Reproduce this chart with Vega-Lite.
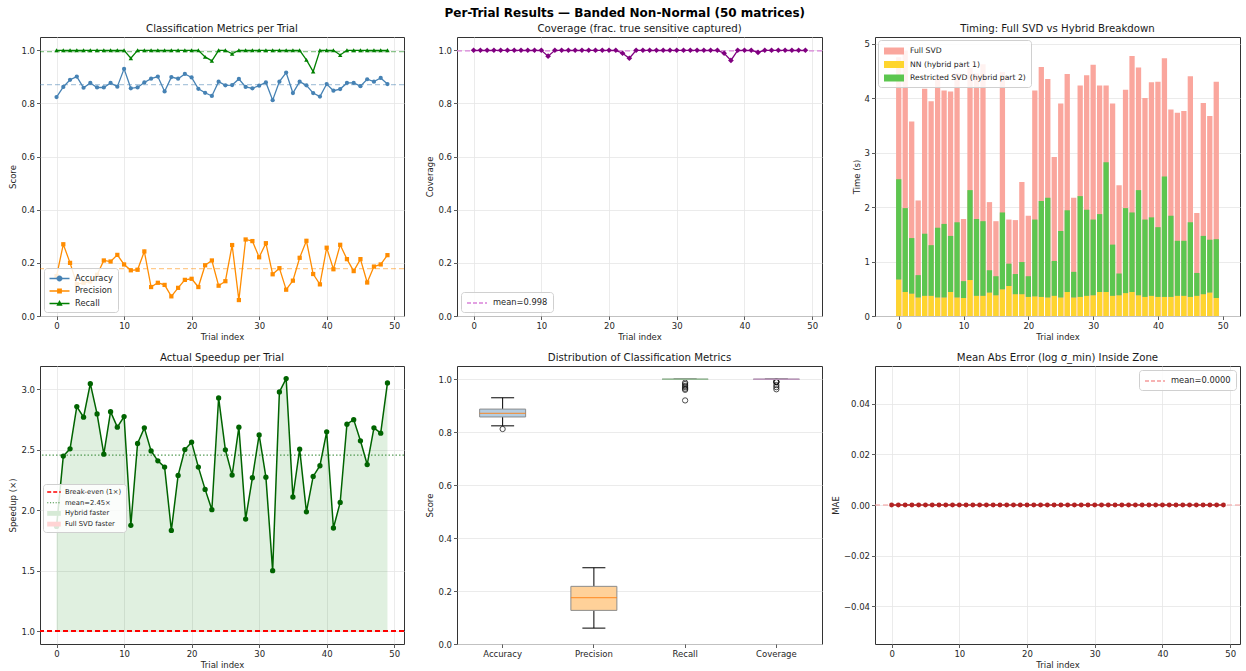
{
  "$schema": "https://vega.github.io/schema/vega-lite/v6.json",
  "background": "white",
  "padding": {"left": 8, "top": 7, "right": 3, "bottom": 2},
  "title": {"text": "Per-Trial Results — Banded Non-Normal (50 matrices)", "fontSize": 12, "fontWeight": "bold", "anchor": "middle", "offset": 3, "color": "#000000"},
  "data": {"values": [
    {"t":0,"acc":0.824,"prec":0.150,"rec":1,"cov":1,"full":4.75,"nn":0.67,"rsvd":1.84,"speed":1.867,"mae":0},
    {"t":1,"acc":0.862,"prec":0.270,"rec":1,"cov":1,"full":4.87,"nn":0.44,"rsvd":1.54,"speed":2.448,"mae":0},
    {"t":2,"acc":0.889,"prec":0.200,"rec":1,"cov":1,"full":3.57,"nn":0.41,"rsvd":1.02,"speed":2.508,"mae":0},
    {"t":3,"acc":0.901,"prec":0.120,"rec":1,"cov":1,"full":2.12,"nn":0.34,"rsvd":0.41,"speed":2.857,"mae":0},
    {"t":4,"acc":0.859,"prec":0.125,"rec":1,"cov":1,"full":4.17,"nn":0.37,"rsvd":1.14,"speed":2.769,"mae":0},
    {"t":5,"acc":0.877,"prec":0.130,"rec":1,"cov":1,"full":3.94,"nn":0.37,"rsvd":0.93,"speed":3.046,"mae":0},
    {"t":6,"acc":0.860,"prec":0.155,"rec":1,"cov":1,"full":4.40,"nn":0.34,"rsvd":1.28,"speed":2.796,"mae":0},
    {"t":7,"acc":0.860,"prec":0.209,"rec":1,"cov":1,"full":4.14,"nn":0.34,"rsvd":1.35,"speed":2.464,"mae":0},
    {"t":8,"acc":0.877,"prec":0.205,"rec":1,"cov":1,"full":4.12,"nn":0.44,"rsvd":1.03,"speed":2.815,"mae":0},
    {"t":9,"acc":0.863,"prec":0.230,"rec":1,"cov":1,"full":4.45,"nn":0.34,"rsvd":1.38,"speed":2.687,"mae":0},
    {"t":10,"acc":0.930,"prec":0.194,"rec":1,"cov":1,"full":1.78,"nn":0.33,"rsvd":0.31,"speed":2.774,"mae":0},
    {"t":11,"acc":0.857,"prec":0.172,"rec":0.970,"cov":0.978,"full":4.55,"nn":0.66,"rsvd":1.65,"speed":1.876,"mae":0},
    {"t":12,"acc":0.860,"prec":0.174,"rec":1,"cov":1,"full":4.45,"nn":0.37,"rsvd":1.41,"speed":2.552,"mae":0},
    {"t":13,"acc":0.879,"prec":0.243,"rec":1,"cov":1,"full":4.62,"nn":0.37,"rsvd":1.37,"speed":2.681,"mae":0},
    {"t":14,"acc":0.893,"prec":0.109,"rec":1,"cov":1,"full":2.09,"nn":0.43,"rsvd":0.41,"speed":2.491,"mae":0},
    {"t":15,"acc":0.901,"prec":0.125,"rec":1,"cov":1,"full":1.74,"nn":0.38,"rsvd":0.35,"speed":2.409,"mae":0},
    {"t":16,"acc":0.845,"prec":0.117,"rec":1,"cov":1,"full":4.48,"nn":0.49,"rsvd":1.41,"speed":2.357,"mae":0},
    {"t":17,"acc":0.899,"prec":0.074,"rec":1,"cov":1,"full":1.77,"nn":0.55,"rsvd":0.41,"speed":1.834,"mae":0},
    {"t":18,"acc":0.893,"prec":0.106,"rec":1,"cov":1,"full":1.76,"nn":0.40,"rsvd":0.37,"speed":2.288,"mae":0},
    {"t":19,"acc":0.911,"prec":0.136,"rec":1,"cov":1,"full":2.46,"nn":0.40,"rsvd":0.59,"speed":2.502,"mae":0},
    {"t":20,"acc":0.898,"prec":0.140,"rec":1,"cov":1,"full":1.84,"nn":0.35,"rsvd":0.38,"speed":2.563,"mae":0},
    {"t":21,"acc":0.855,"prec":0.109,"rec":1,"cov":1,"full":4.14,"nn":0.36,"rsvd":1.41,"speed":2.357,"mae":0},
    {"t":22,"acc":0.840,"prec":0.191,"rec":0.975,"cov":0.989,"full":4.57,"nn":0.35,"rsvd":1.76,"speed":2.173,"mae":0},
    {"t":23,"acc":0.828,"prec":0.209,"rec":0.960,"cov":0.970,"full":4.35,"nn":0.34,"rsvd":1.83,"speed":2.005,"mae":0},
    {"t":24,"acc":0.882,"prec":0.114,"rec":1,"cov":1,"full":2.92,"nn":0.37,"rsvd":0.64,"speed":2.928,"mae":0},
    {"t":25,"acc":0.868,"prec":0.131,"rec":1,"cov":1,"full":3.90,"nn":0.34,"rsvd":1.22,"speed":2.500,"mae":0},
    {"t":26,"acc":0.869,"prec":0.267,"rec":0.987,"cov":1,"full":4.44,"nn":0.44,"rsvd":1.50,"speed":2.291,"mae":0},
    {"t":27,"acc":0.892,"prec":0.060,"rec":1,"cov":1,"full":2.17,"nn":0.34,"rsvd":0.47,"speed":2.687,"mae":0},
    {"t":28,"acc":0.862,"prec":0.288,"rec":1,"cov":1,"full":4.23,"nn":0.35,"rsvd":1.85,"speed":1.928,"mae":0},
    {"t":29,"acc":0.857,"prec":0.282,"rec":1,"cov":1,"full":4.42,"nn":0.37,"rsvd":1.58,"speed":2.269,"mae":0},
    {"t":30,"acc":0.867,"prec":0.221,"rec":1,"cov":1,"full":4.61,"nn":0.38,"rsvd":1.39,"speed":2.623,"mae":0},
    {"t":31,"acc":0.879,"prec":0.274,"rec":1,"cov":1,"full":4.23,"nn":0.44,"rsvd":1.43,"speed":2.274,"mae":0},
    {"t":32,"acc":0.812,"prec":0.157,"rec":1,"cov":1,"full":4.23,"nn":0.44,"rsvd":2.38,"speed":1.502,"mae":0},
    {"t":33,"acc":0.882,"prec":0.180,"rec":1,"cov":1,"full":3.90,"nn":0.37,"rsvd":0.94,"speed":2.978,"mae":0},
    {"t":34,"acc":0.916,"prec":0.099,"rec":1,"cov":1,"full":2.40,"nn":0.38,"rsvd":0.40,"speed":3.088,"mae":0},
    {"t":35,"acc":0.839,"prec":0.133,"rec":1,"cov":1,"full":4.15,"nn":0.42,"rsvd":1.56,"speed":2.110,"mae":0},
    {"t":36,"acc":0.882,"prec":0.219,"rec":1,"cov":1,"full":4.77,"nn":0.44,"rsvd":1.46,"speed":2.505,"mae":0},
    {"t":37,"acc":0.868,"prec":0.283,"rec":0.964,"cov":0.989,"full":4.56,"nn":0.38,"rsvd":1.93,"speed":1.988,"mae":0},
    {"t":38,"acc":0.839,"prec":0.158,"rec":0.920,"cov":0.962,"full":4.00,"nn":0.35,"rsvd":1.42,"speed":2.280,"mae":0},
    {"t":39,"acc":0.826,"prec":0.119,"rec":1,"cov":1,"full":4.29,"nn":0.37,"rsvd":1.44,"speed":2.368,"mae":0},
    {"t":40,"acc":0.873,"prec":0.257,"rec":1,"cov":1,"full":4.30,"nn":0.35,"rsvd":1.28,"speed":2.648,"mae":0},
    {"t":41,"acc":0.848,"prec":0.176,"rec":1,"cov":1,"full":4.73,"nn":0.35,"rsvd":2.21,"speed":1.854,"mae":0},
    {"t":42,"acc":0.854,"prec":0.268,"rec":0.982,"cov":0.992,"full":3.79,"nn":0.35,"rsvd":1.49,"speed":2.065,"mae":0},
    {"t":43,"acc":0.877,"prec":0.214,"rec":1,"cov":1,"full":3.73,"nn":0.37,"rsvd":1.01,"speed":2.711,"mae":0},
    {"t":44,"acc":0.877,"prec":0.169,"rec":1,"cov":1,"full":3.76,"nn":0.37,"rsvd":1.01,"speed":2.749,"mae":0},
    {"t":45,"acc":0.865,"prec":0.214,"rec":1,"cov":1,"full":4.40,"nn":0.35,"rsvd":1.37,"speed":2.574,"mae":0},
    {"t":46,"acc":0.891,"prec":0.126,"rec":1,"cov":1,"full":1.89,"nn":0.37,"rsvd":0.42,"speed":2.378,"mae":0},
    {"t":47,"acc":0.882,"prec":0.186,"rec":1,"cov":1,"full":3.91,"nn":0.40,"rsvd":1.07,"speed":2.681,"mae":0},
    {"t":48,"acc":0.896,"prec":0.194,"rec":1,"cov":1,"full":3.67,"nn":0.43,"rsvd":0.97,"speed":2.637,"mae":0},
    {"t":49,"acc":0.873,"prec":0.229,"rec":1,"cov":1,"full":4.30,"nn":0.33,"rsvd":1.08,"speed":3.052,"mae":0}
  ]},
  "columns": 3,
  "spacing": {"row": 50, "column": 53},
  "bounds": "flush",
  "resolve": {"scale": {"color": "independent", "shape": "independent"}, "legend": {"color": "independent", "shape": "independent"}},
  "concat": [
    {
      "width": 364, "height": 279,
      "title": "Classification Metrics per Trial",
      "layer": [
        {"mark": {"type": "rule", "color": "#4682b4", "strokeDash": [5, 3], "strokeWidth": 1.2, "opacity": 0.45},
         "encoding": {"y": {"aggregate": "mean", "field": "acc", "type": "quantitative", "title": "Score"}}},
        {"mark": {"type": "rule", "color": "#ff8c00", "strokeDash": [5, 3], "strokeWidth": 1.2, "opacity": 0.45},
         "encoding": {"y": {"aggregate": "mean", "field": "prec", "type": "quantitative", "title": "Score"}}},
        {"mark": {"type": "rule", "color": "#008000", "strokeDash": [5, 3], "strokeWidth": 1.2, "opacity": 0.45},
         "encoding": {"y": {"aggregate": "mean", "field": "rec", "type": "quantitative", "title": "Score"}}},
        {"mark": {"type": "line", "color": "#4682b4", "strokeWidth": 1.3},
         "encoding": {
           "x": {"field": "t", "type": "quantitative", "scale": {"domain": [-2.45, 51.45], "nice": false, "zero": false}, "axis": {"values": [0, 10, 20, 30, 40, 50], "format": "d", "title": "Trial index"}},
           "y": {"field": "acc", "type": "quantitative", "title": "Score", "scale": {"domain": [0, 1.05], "nice": false}, "axis": {"values": [0, 0.2, 0.4, 0.6, 0.8, 1.0], "format": ".1f"}}}},
        {"mark": {"type": "point", "shape": "circle", "filled": true, "size": 18, "color": "#4682b4", "opacity": 1},
         "encoding": {"x": {"field": "t", "type": "quantitative"}, "y": {"field": "acc", "type": "quantitative", "title": "Score"}}},
        {"mark": {"type": "line", "color": "#ff8c00", "strokeWidth": 1.3},
         "encoding": {"x": {"field": "t", "type": "quantitative"}, "y": {"field": "prec", "type": "quantitative", "title": "Score"}}},
        {"mark": {"type": "point", "shape": "square", "filled": true, "size": 18, "color": "#ff8c00", "opacity": 1},
         "encoding": {"x": {"field": "t", "type": "quantitative"}, "y": {"field": "prec", "type": "quantitative", "title": "Score"}}},
        {"mark": {"type": "line", "color": "#008000", "strokeWidth": 1.3},
         "encoding": {"x": {"field": "t", "type": "quantitative"}, "y": {"field": "rec", "type": "quantitative", "title": "Score"}}},
        {"mark": {"type": "point", "shape": "triangle-up", "filled": true, "size": 20, "color": "#008000", "opacity": 1},
         "encoding": {"x": {"field": "t", "type": "quantitative"}, "y": {"field": "rec", "type": "quantitative", "title": "Score"}}},
        {"transform": [{"filter": "datum.t == 0"}, {"fold": ["acc", "prec", "rec"], "as": ["metric", "score"]}],
         "mark": {"type": "point", "filled": true, "opacity": 0},
         "encoding": {
           "x": {"field": "t", "type": "quantitative"},
           "y": {"field": "score", "type": "quantitative", "title": "Score"},
           "color": {"field": "metric", "type": "nominal", "scale": {"domain": ["acc", "prec", "rec"], "range": ["#4682b4", "#ff8c00", "#008000"]},
             "legend": {"title": null, "orient": "bottom-left", "offset": 4, "symbolSize": 100, "symbolOffset": 5, "labelOffset": 10, "rowPadding": 3.5, "symbolOpacity": 1, "symbolStrokeWidth": 0.3,
               "labelExpr": "datum.label == 'acc' ? 'Accuracy' : datum.label == 'prec' ? 'Precision' : 'Recall'"}},
           "shape": {"field": "metric", "type": "nominal", "legend": null, "scale": {"domain": ["acc", "prec", "rec"], "range": [
             "M-2,-0.13H2V0.13H-2Z M0.6,0A0.6,0.6 0 1 1 -0.6,0A0.6,0.6 0 1 1 0.6,0Z",
             "M-2,-0.13H2V0.13H-2Z M-0.48,-0.48H0.48V0.48H-0.48Z",
             "M-2,-0.13H2V0.13H-2Z M0,-0.7L0.62,0.45H-0.62Z"]}}
         }}
      ]
    },
    {
      "width": 365, "height": 279,
      "title": "Coverage (frac. true sensitive captured)",
      "layer": [
        {
          "mark": {"type": "rule", "strokeDash": [5, 3], "strokeWidth": 1.2},
          "encoding": {
            "y": {"aggregate": "mean", "field": "cov", "type": "quantitative", "title": "Coverage"},
            "color": {"datum": "mean=0.998", "type": "nominal", "scale": {"domain": ["mean=0.998"], "range": ["#d982d9"]},
              "legend": {"title": null, "orient": "bottom-left", "offset": 4, "symbolType": "M-2,0H2", "symbolSize": 100, "symbolOffset": 5, "labelOffset": 10, "symbolDash": [4, 2], "symbolStrokeWidth": 1.3}}
          }
        },
        {
          "mark": {"type": "line", "color": "#800080", "strokeWidth": 1.3},
          "encoding": {
            "x": {"field": "t", "type": "quantitative", "scale": {"domain": [-2.45, 51.45], "nice": false, "zero": false}, "axis": {"values": [0, 10, 20, 30, 40, 50], "format": "d", "title": "Trial index"}},
            "y": {"field": "cov", "type": "quantitative", "title": "Coverage", "scale": {"domain": [0, 1.05], "nice": false}, "axis": {"values": [0, 0.2, 0.4, 0.6, 0.8, 1.0], "format": ".1f"}}
          }
        },
        {
          "mark": {"type": "point", "shape": "diamond", "filled": true, "color": "#800080", "size": 32, "opacity": 1},
          "encoding": {
            "x": {"field": "t", "type": "quantitative"},
            "y": {"field": "cov", "type": "quantitative", "title": "Coverage"}
          }
        }
      ]
    },
    {
      "width": 365, "height": 279,
      "title": "Timing: Full SVD vs Hybrid Breakdown",
      "layer": [
        {
          "mark": {"type": "bar", "width": 5.3},
          "encoding": {
            "x": {"field": "t", "type": "quantitative", "scale": {"domain": [-2.89, 51.89], "nice": false, "zero": false}, "axis": {"values": [0, 10, 20, 30, 40, 50], "format": "d", "title": "Trial index", "grid": false}},
            "y": {"field": "full", "type": "quantitative", "title": "Time (s)", "scale": {"domain": [0, 5.12], "nice": false}, "axis": {"values": [0, 1, 2, 3, 4, 5], "format": "d"}},
            "color": {"datum": "full", "type": "nominal", "scale": {"domain": ["full", "nn", "rsvd"], "range": ["#faa69d", "#fed52e", "#5cc64f"]},
              "legend": {"title": null, "orient": "top-left", "offset": 3, "symbolType": "M-2,-0.7H2V0.7H-2Z", "symbolSize": 100, "symbolOffset": 5, "labelOffset": 10, "labelFontSize": 7.7, "rowPadding": 3.5,
                "labelExpr": "datum.label == 'full' ? 'Full SVD' : datum.label == 'nn' ? 'NN (hybrid part 1)' : 'Restricted SVD (hybrid part 2)'"}}
          }
        },
        {
          "transform": [{"fold": ["nn", "rsvd"], "as": ["part", "time"]}],
          "mark": {"type": "bar", "width": 5.3},
          "encoding": {
            "x": {"field": "t", "type": "quantitative"},
            "y": {"field": "time", "type": "quantitative", "stack": "zero", "title": "Time (s)"},
            "color": {"field": "part", "type": "nominal", "title": null,
              "legend": {"title": null, "orient": "top-left", "offset": 3, "symbolType": "M-2,-0.7H2V0.7H-2Z", "symbolSize": 100, "symbolOffset": 5, "labelOffset": 10, "labelFontSize": 7.7, "rowPadding": 3.5,
                "labelExpr": "datum.label == 'full' ? 'Full SVD' : datum.label == 'nn' ? 'NN (hybrid part 1)' : 'Restricted SVD (hybrid part 2)'"}},
            "order": {"field": "part", "sort": "ascending"}
          }
        }
      ]
    },
    {
      "width": 364, "height": 278,
      "title": "Actual Speedup per Trial",
      "layer": [
        {
          "mark": {"type": "area", "color": "#008000", "opacity": 0.12},
          "encoding": {
            "x": {"field": "t", "type": "quantitative", "scale": {"domain": [-2.45, 51.45], "nice": false, "zero": false}, "axis": {"values": [0, 10, 20, 30, 40, 50], "format": "d", "title": "Trial index"}},
            "y": {"field": "speed", "type": "quantitative", "title": "Speedup (×)", "scale": {"domain": [0.896, 3.192], "nice": false, "zero": false}, "axis": {"values": [1, 1.5, 2, 2.5, 3], "format": ".1f"}},
            "y2": {"datum": 1}
          }
        },
        {
          "mark": {"type": "rule", "color": "#ff0000", "strokeDash": [5, 3], "strokeWidth": 1.3},
          "encoding": {"y": {"datum": 1}}
        },
        {
          "mark": {"type": "rule", "color": "#3c8c3c", "strokeDash": [1.5, 2], "strokeWidth": 1.1, "opacity": 0.85},
          "encoding": {"y": {"aggregate": "mean", "field": "speed", "type": "quantitative", "title": "Speedup (×)"}}
        },
        {
          "mark": {"type": "line", "color": "#006400", "strokeWidth": 1.5},
          "encoding": {
            "x": {"field": "t", "type": "quantitative"},
            "y": {"field": "speed", "type": "quantitative", "title": "Speedup (×)"}
          }
        },
        {
          "mark": {"type": "point", "filled": true, "color": "#006400", "size": 28, "opacity": 1},
          "encoding": {
            "x": {"field": "t", "type": "quantitative"},
            "y": {"field": "speed", "type": "quantitative", "title": "Speedup (×)"}
          }
        },
        {
          "transform": [{"filter": "datum.t == 0"}, {"fold": ["acc", "prec", "rec", "cov"], "as": ["entry", "v"]}],
          "mark": {"type": "point", "filled": true, "opacity": 0},
          "encoding": {
            "x": {"field": "t", "type": "quantitative"},
            "y": {"field": "speed", "type": "quantitative", "title": "Speedup (×)"},
            "color": {"field": "entry", "type": "nominal", "scale": {"domain": ["acc", "prec", "rec", "cov"], "range": ["#ff0000", "#3c8c3c", "#d6ead6", "#ffd4d4"]},
              "legend": {"title": null, "orient": "none", "legendX": 3, "legendY": 118, "labelFontSize": 6.8, "symbolSize": 64, "symbolOffset": 3, "labelOffset": 7, "rowPadding": 2.7, "padding": 4, "symbolOpacity": 1, "symbolStrokeWidth": 0,
                "labelExpr": "datum.label == 'acc' ? 'Break-even (1×)' : datum.label == 'prec' ? 'mean=2.45×' : datum.label == 'rec' ? 'Hybrid faster' : 'Full SVD faster'"}},
            "shape": {"field": "entry", "type": "nominal", "legend": null, "scale": {"domain": ["acc", "prec", "rec", "cov"], "range": [
              "M-1.7,-0.17H-0.7V0.17H-1.7Z M-0.2,-0.17H0.8V0.17H-0.2Z M1.3,-0.17H1.7V0.17H1.3Z",
              "M-1.7,-0.14H-1.42V0.14H-1.7Z M-1.0,-0.14H-0.72V0.14H-1.0Z M-0.3,-0.14H-0.02V0.14H-0.3Z M0.4,-0.14H0.68V0.14H0.4Z M1.1,-0.14H1.38V0.14H1.1Z",
              "M-1.7,-0.6H1.7V0.6H-1.7Z",
              "M-1.7,-0.6H1.7V0.6H-1.7Z"]}}
          }
        }
      ]
    },
    {
      "width": 365, "height": 278,
      "title": "Distribution of Classification Metrics",
      "transform": [{"fold": ["acc", "prec", "rec", "cov"], "as": ["metric", "score"]}],
      "mark": {"type": "boxplot", "extent": 1.5, "size": 46,
        "box": {"stroke": "#8c8c8c", "strokeWidth": 1},
        "median": {"color": "#ff7f0e", "thickness": 1.3},
        "rule": {"color": "#000000", "strokeWidth": 1},
        "ticks": {"color": "#000000", "size": 23, "thickness": 1},
        "outliers": {"shape": "circle", "filled": false, "color": "#000000", "stroke": "#000000", "size": 28, "strokeWidth": 1}},
      "encoding": {
        "x": {"field": "metric", "type": "nominal", "sort": ["acc", "prec", "rec", "cov"], "scale": {"domain": ["acc", "prec", "rec", "cov"], "paddingInner": 0, "paddingOuter": 0},
          "axis": {"title": null, "labelAngle": 0, "grid": false, "labelExpr": "datum.label == 'acc' ? 'Accuracy' : datum.label == 'prec' ? 'Precision' : datum.label == 'rec' ? 'Recall' : 'Coverage'"}},
        "y": {"field": "score", "type": "quantitative", "title": "Score", "scale": {"domain": [0, 1.05], "nice": false}, "axis": {"values": [0, 0.2, 0.4, 0.6, 0.8, 1.0], "format": ".1f"}},
        "color": {"field": "metric", "type": "nominal", "scale": {"domain": ["acc", "prec", "rec", "cov"], "range": ["#b5cde1", "#ffd199", "#99cc99", "#cc99cc"]}, "legend": null}
      }
    },
    {
      "width": 365, "height": 278,
      "title": "Mean Abs Error (log σ_min) Inside Zone",
      "layer": [
        {
          "mark": {"type": "rule", "strokeDash": [5, 3], "strokeWidth": 1.2},
          "encoding": {
            "y": {"aggregate": "mean", "field": "mae", "type": "quantitative", "title": "MAE"},
            "color": {"datum": "mean=0.0000", "type": "nominal", "scale": {"domain": ["mean=0.0000"], "range": ["#f59a9a"]},
              "legend": {"title": null, "orient": "top-right", "offset": 4, "symbolType": "M-2,0H2", "symbolSize": 100, "symbolOffset": 5, "labelOffset": 10, "symbolDash": [4, 2], "symbolStrokeWidth": 1.3}}
          }
        },
        {
          "mark": {"type": "line", "color": "#b22222", "strokeWidth": 1.3},
          "encoding": {
            "x": {"field": "t", "type": "quantitative", "scale": {"domain": [-2.45, 51.45], "nice": false, "zero": false}, "axis": {"values": [0, 10, 20, 30, 40, 50], "format": "d", "title": "Trial index"}},
            "y": {"field": "mae", "type": "quantitative", "title": "MAE", "scale": {"domain": [-0.055, 0.055], "nice": false, "zero": false}, "axis": {"values": [-0.04, -0.02, 0, 0.02, 0.04], "format": ".2f"}}
          }
        },
        {
          "mark": {"type": "point", "filled": true, "color": "#b22222", "size": 24, "opacity": 1},
          "encoding": {
            "x": {"field": "t", "type": "quantitative"},
            "y": {"field": "mae", "type": "quantitative", "title": "MAE"}
          }
        }
      ]
    }
  ],
  "config": {
    "font": "DejaVu Sans",
    "view": {"stroke": "#333333", "strokeWidth": 1},
    "axis": {"domain": false, "tickColor": "#333333", "tickSize": 3.5, "tickWidth": 0.8, "labelFontSize": 8.5, "labelColor": "#262626", "titleFontSize": 8.5, "titleFontWeight": "normal", "titleColor": "#262626", "gridColor": "#e6e6e6", "gridWidth": 0.8, "labelPadding": 2, "titlePadding": 3, "labelFlush": false, "labelOverlap": false},
    "axisX": {"titlePadding": 2},
    "title": {"fontSize": 10.2, "fontWeight": "normal", "color": "#1a1a1a", "offset": 3, "anchor": "middle"},
    "legend": {"labelFontSize": 8.3, "labelColor": "#262626", "padding": 5, "fillColor": "rgba(255,255,255,0.85)", "strokeColor": "#d0d0d0", "cornerRadius": 3, "rowPadding": 3, "labelOffset": 6, "labelLimit": 300}
  }
}
